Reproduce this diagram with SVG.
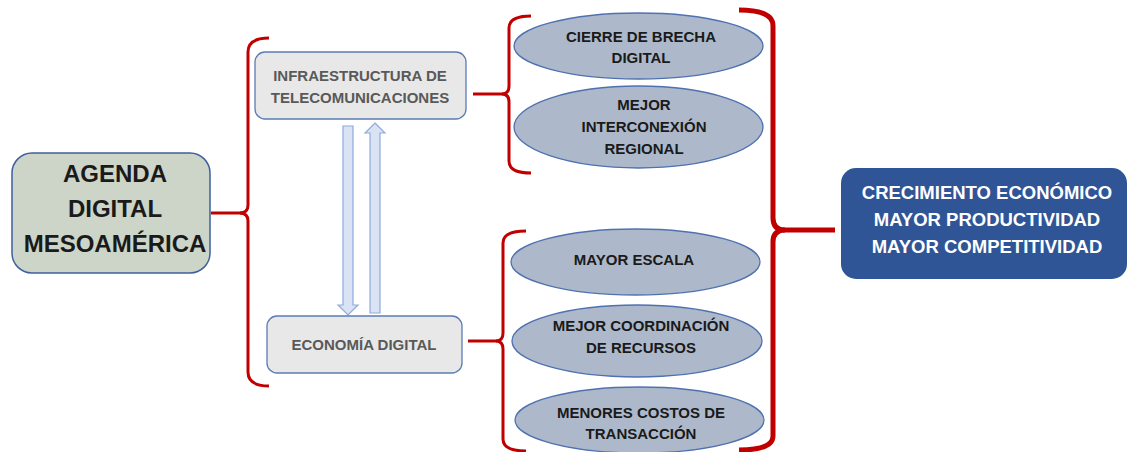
<svg xmlns="http://www.w3.org/2000/svg" width="1129" height="452" viewBox="0 0 1129 452">
<style>
text{font-family:"Liberation Sans",Arial,sans-serif;font-weight:bold;text-anchor:middle}
.ell{fill:#adb9ca;stroke:#4f71b0;stroke-width:1.3}
.et{font-size:15px;fill:#1a1a1a}
.gbox{fill:#e8e8e8;stroke:#5b7bb5;stroke-width:1.3}
.gt{font-size:15px;fill:#595959}
.br{fill:none;stroke:#c00000;stroke-width:3}
.brb{fill:none;stroke:#c00000;stroke-width:5}
.arr{fill:#dae3f3;stroke:#8faadc;stroke-width:1.2}
</style>
<rect width="1129" height="452" fill="#ffffff"/>
<g id="connectors">
<path class="br" d="M269,38 Q248,38 248,52 L248,205 Q248,213 240,213 Q248,213 248,221 L248,372 Q248,386 269,386"/>
<path class="br" d="M211,213 H242"/>
<path class="br" d="M531,16 Q509,16 509,28 L509,86 Q509,94 502,94 Q509,94 509,102 L509,161 Q509,173 531,173"/>
<path class="br" d="M473,94 H503"/>
<path class="br" d="M526,231 Q503,231 503,243 L503,333 Q503,341 496,341 Q503,341 503,349 L503,439 Q503,451 526,451"/>
<path class="br" d="M468,341 H497"/>
<path class="brb" d="M739,10 Q773,10 773,26 L773,218 Q773,230 785,230 Q773,230 773,242 L773,436 Q773,450 739,450"/>
<path class="brb" d="M783,230 H835"/>
<polygon class="arr" points="343,126 353,126 353,305 358,305 348,315 338,305 343,305"/>
<polygon class="arr" points="375,123 385,133 380,133 380,313 370,313 370,133 365,133"/>
</g>
<g id="agenda">
<rect x="12" y="153" width="198" height="120" rx="20" fill="#cdd5c8" stroke="#3f5f9f" stroke-width="1.5"/>
<text x="115" y="182" font-size="24" fill="#1a1a1a">AGENDA</text>
<text x="115" y="217" font-size="24" fill="#1a1a1a">DIGITAL</text>
<text x="115" y="252" font-size="24" fill="#1a1a1a">MESOAMÉRICA</text>
</g>
<g id="infra">
<rect class="gbox" x="255" y="52" width="211" height="67" rx="10"/>
<text class="gt" x="360" y="81">INFRAESTRUCTURA DE</text>
<text class="gt" x="360" y="103">TELECOMUNICACIONES</text>
</g>
<g id="economia">
<rect class="gbox" x="267" y="316" width="195" height="57" rx="10"/>
<text class="gt" x="364" y="350">ECONOMÍA DIGITAL</text>
</g>
<g id="cierre">
<ellipse class="ell" cx="638.5" cy="46" rx="124.5" ry="33"/>
<text class="et" x="641" y="42">CIERRE DE BRECHA</text>
<text class="et" x="641" y="63">DIGITAL</text>
</g>
<g id="interconexion">
<ellipse class="ell" cx="638.5" cy="127" rx="124.5" ry="41"/>
<text class="et" x="644" y="110">MEJOR</text>
<text class="et" x="644" y="132">INTERCONEXIÓN</text>
<text class="et" x="644" y="154">REGIONAL</text>
</g>
<g id="escala">
<ellipse class="ell" cx="635.5" cy="262" rx="124.5" ry="33"/>
<text class="et" x="634" y="265">MAYOR ESCALA</text>
</g>
<g id="coordinacion">
<ellipse class="ell" cx="637" cy="341" rx="125" ry="36"/>
<text class="et" x="641" y="331">MEJOR COORDINACIÓN</text>
<text class="et" x="641" y="353">DE RECURSOS</text>
</g>
<g id="costos">
<ellipse class="ell" cx="639.5" cy="420" rx="124.5" ry="33"/>
<text class="et" x="641" y="418">MENORES COSTOS DE</text>
<text class="et" x="641" y="439">TRANSACCIÓN</text>
</g>
<g id="crecimiento">
<rect x="841" y="168" width="286" height="111" rx="15" fill="#2f5597"/>
<text x="987" y="199" font-size="18.5" fill="#ffffff">CRECIMIENTO ECONÓMICO</text>
<text x="987" y="226" font-size="18.5" fill="#ffffff">MAYOR PRODUCTIVIDAD</text>
<text x="987" y="253" font-size="18.5" fill="#ffffff">MAYOR COMPETITIVIDAD</text>
</g>
</svg>
